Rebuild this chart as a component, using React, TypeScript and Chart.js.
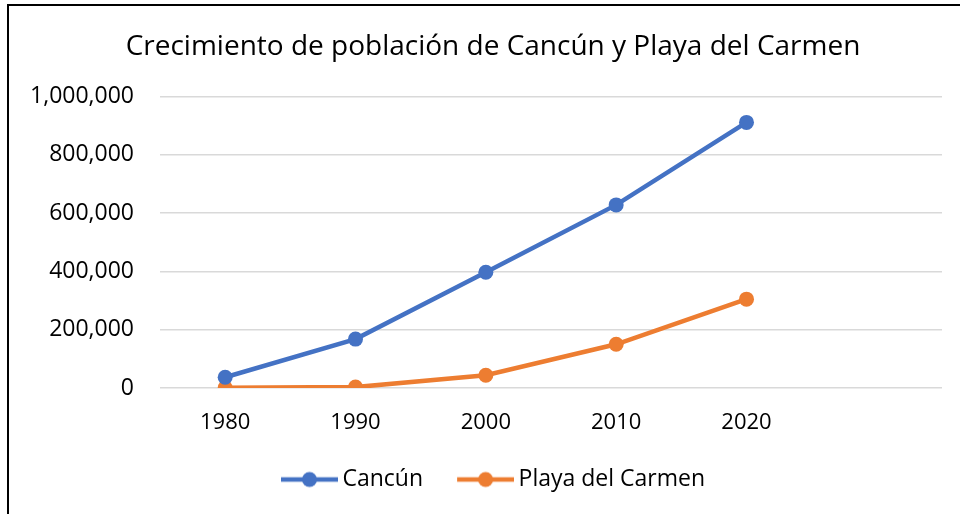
import React, { useEffect, useRef } from "react";
import { Chart, registerables } from "chart.js";

Chart.register(...registerables);

const categories = ["1980", "1990", "2000", "2010", "2020", ""];
const cancun = [37000, 167730, 397191, 628306, 911503, null];
const playa = [1000, 3100, 43613, 149923, 304942, null];
const seriesNames = ["Cancún", "Playa del Carmen"];
const title = "Crecimiento de población de Cancún y Playa del Carmen";

const BLUE = "#4472C4";
const ORANGE = "#ED7D31";
const FONT = "'Open Sans'";

function legendIcon(color: string): HTMLCanvasElement {
  const c = document.createElement("canvas");
  c.width = 64;
  c.height = 18;
  const ctx = c.getContext("2d")!;
  ctx.strokeStyle = color;
  ctx.lineWidth = 4.5;
  ctx.beginPath();
  ctx.moveTo(7, 9);
  ctx.lineTo(64, 9);
  ctx.stroke();
  ctx.fillStyle = color;
  ctx.beginPath();
  ctx.arc(35.5, 9, 7.5, 0, Math.PI * 2);
  ctx.fill();
  return c;
}

export default function App() {
  const ref = useRef<HTMLCanvasElement | null>(null);
  useEffect(() => {
    if (!ref.current) return;
    const icons = [legendIcon(BLUE), legendIcon(ORANGE)];
    const chart = new Chart(ref.current, {
      type: "line",
      data: {
        labels: categories,
        datasets: [
          {
            label: seriesNames[0],
            data: cancun,
            borderColor: BLUE,
            backgroundColor: BLUE,
            borderWidth: 4.5,
            pointRadius: 7.5,
            pointHoverRadius: 7.5,
            pointBorderWidth: 0,
            pointStyle: "circle",
            tension: 0,
          },
          {
            label: seriesNames[1],
            data: playa,
            borderColor: ORANGE,
            backgroundColor: ORANGE,
            borderWidth: 4.5,
            pointRadius: 7.5,
            pointHoverRadius: 7.5,
            pointBorderWidth: 0,
            pointStyle: "circle",
            tension: 0,
          },
        ],
      },
      options: {
        animation: false,
        responsive: false,
        maintainAspectRatio: false,
        layout: { padding: { left: 28, right: 2, top: 0, bottom: 13 } },
        plugins: {
          title: {
            display: true,
            text: title,
            color: "#000",
            font: { family: FONT, size: 28, weight: "normal" },
            padding: { top: 30, bottom: 33 },
          },
          legend: {
            position: "bottom",
            labels: {
              color: "#000",
              font: { family: FONT, size: 23 },
              usePointStyle: true,
              pointStyleWidth: 50,
              padding: 34,
              generateLabels: (ch: any) =>
                ch.data.datasets.map((ds: any, i: number) => ({
                  text: ds.label,
                  pointStyle: icons[i],
                  fillStyle: ds.borderColor,
                  strokeStyle: ds.borderColor,
                  lineWidth: 0,
                  hidden: false,
                  datasetIndex: i,
                  fontColor: "#000",
                })),
            },
          },
          tooltip: { enabled: false },
        },
        scales: {
          x: {
            offset: true,
            grid: { display: false, drawTicks: false },
            border: { display: false },
            afterFit: (s: any) => {
              s.height = 46;
            },
            ticks: {
              color: "#000",
              font: { family: FONT, size: 22 },
              padding: 22,
              maxRotation: 0,
              autoSkip: false,
            },
          },
          y: {
            min: 0,
            max: 1000000,
            grid: { color: "#d9d9d9", lineWidth: 1.5, drawTicks: false },
            border: { display: false },
            afterFit: (s: any) => {
              s.width = 132;
            },
            ticks: {
              stepSize: 200000,
              color: "#000",
              font: { family: FONT, size: 23 },
              padding: 26,
              callback: (v: any) => Number(v).toLocaleString("en-US"),
            },
          },
          yRight: {
            type: "linear",
            position: "right",
            min: 0,
            max: 1,
            grid: { display: false, drawTicks: false },
            border: { display: false },
            ticks: { display: false },
            afterFit: (s: any) => {
              s.width = 16;
            },
          },
        },
      },
    });
    return () => chart.destroy();
  }, []);

  return (
    <div
      style={{
        position: "absolute",
        left: 0,
        top: 0,
        width: 960,
        height: 514,
        background: "#fff",
        overflow: "hidden",
      }}
    >
      <div
        style={{
          position: "absolute",
          left: 7,
          top: 4,
          width: 960,
          height: 520,
          borderLeft: "2px solid #000",
          borderTop: "2px solid #000",
          boxSizing: "border-box",
        }}
      />
      <canvas
        ref={ref}
        width={960}
        height={514}
        style={{ position: "absolute", left: 0, top: 0, width: 960, height: 514 }}
      />
    </div>
  );
}
